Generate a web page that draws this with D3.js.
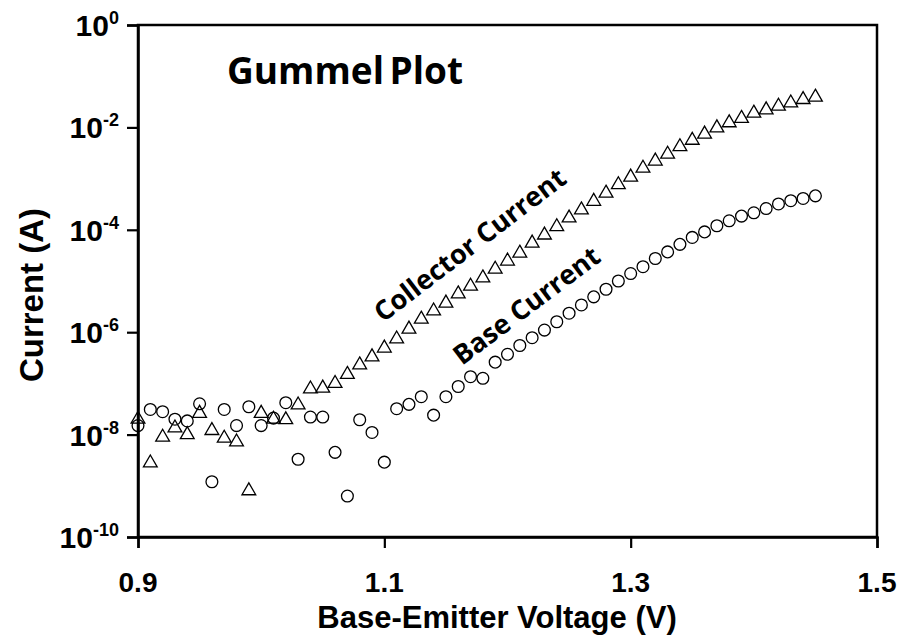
<!DOCTYPE html>
<html>
<head>
<meta charset="utf-8">
<script src="https://cdn.jsdelivr.net/npm/d3@7"></script>
<style>
  body { margin: 0; background: #fff; }
  svg { display: block; }
</style>
</head>
<body>
<svg id="chart" width="906" height="636"></svg>
<script>
// ---- data ----
const voltage = [0.90,0.91,0.92,0.93,0.94,0.95,0.96,0.97,0.98,0.99,
  1.00,1.01,1.02,1.03,1.04,1.05,1.06,1.07,1.08,1.09,
  1.10,1.11,1.12,1.13,1.14,1.15,1.16,1.17,1.18,1.19,
  1.20,1.21,1.22,1.23,1.24,1.25,1.26,1.27,1.28,1.29,
  1.30,1.31,1.32,1.33,1.34,1.35,1.36,1.37,1.38,1.39,
  1.40,1.41,1.42,1.43,1.44,1.45];
const collectorCurrent = [2.0e-8,2.8e-9,8.9e-9,1.35e-8,1.0e-8,2.6e-8,1.2e-8,8.5e-9,7.2e-9,8.0e-10,
  2.6e-8,2.0e-8,1.95e-8,3.8e-8,7.8e-8,8.1e-8,1.0e-7,1.5e-7,2.3e-7,3.3e-7,
  4.9e-7,7.4e-7,1.15e-6,1.8e-6,2.6e-6,3.7e-6,5.6e-6,7.9e-6,1.15e-5,1.7e-5,
  2.45e-5,3.5e-5,5.5e-5,7.9e-5,1.15e-4,1.7e-4,2.45e-4,3.6e-4,5.2e-4,7.6e-4,
  1.07e-3,1.6e-3,2.2e-3,3.0e-3,4.2e-3,5.6e-3,7.4e-3,9.8e-3,1.23e-2,1.5e-2,
  1.9e-2,2.2e-2,2.6e-2,3.0e-2,3.5e-2,3.9e-2];
const baseCurrent = [1.5e-8,3.1e-8,2.8e-8,2.0e-8,1.85e-8,4.0e-8,1.2e-9,3.1e-8,1.5e-8,3.5e-8,
  1.5e-8,2.1e-8,4.2e-8,3.3e-9,2.2e-8,2.2e-8,4.5e-9,6.3e-10,1.95e-8,1.1e-8,
  2.9e-9,3.2e-8,3.9e-8,5.5e-8,2.4e-8,5.5e-8,8.7e-8,1.35e-7,1.26e-7,2.6e-7,
  3.7e-7,5.5e-7,7.8e-7,1.1e-6,1.6e-6,2.35e-6,3.4e-6,4.9e-6,6.9e-6,1.0e-5,
  1.4e-5,1.9e-5,2.75e-5,3.7e-5,5.2e-5,7.1e-5,9.1e-5,1.2e-4,1.5e-4,1.85e-4,
  2.15e-4,2.6e-4,3.2e-4,3.7e-4,4.1e-4,4.6e-4];
const xTicks = [0.9, 1.1, 1.3, 1.5];
const yTickExponents = [0, -2, -4, -6, -8, -10];
const chartTitle = "Gummel Plot";
const xTitle = "Base-Emitter Voltage (V)";
const yTitle = "Current (A)";
const seriesLabels = ["Collector Current", "Base Current"];

// ---- layout ----
const svg = d3.select("#chart");
const pL = 138, pR = 877, pT = 25, pB = 537;
const x = d3.scaleLinear().domain([0.9, 1.5]).range([pL, pR]);
const y = d3.scaleLog().domain([1e-10, 1]).range([pB, pT]);
const axisFont = "'Liberation Sans', Arial, sans-serif";
const labelFont = "'Open Sans', 'Noto Sans', sans-serif";

// frame
svg.append("rect").attr("x", pL).attr("y", pT)
  .attr("width", pR - pL).attr("height", pB - pT)
  .attr("fill", "none").attr("stroke", "#000").attr("stroke-width", 2.5);

// y axis
const yAxis = d3.axisLeft(y).tickValues(yTickExponents.map(e => Math.pow(10, e)))
  .tickSize(11).tickFormat("");
const gy = svg.append("g").attr("transform", `translate(${pL},0)`).call(yAxis);
gy.select(".domain").attr("stroke-width", 2.5);
gy.selectAll(".tick line").attr("stroke-width", 2.2);

// y tick labels with superscripts
const yl = svg.append("g");
yTickExponents.forEach(e => {
  const t = yl.append("text")
    .attr("x", 119).attr("y", y(Math.pow(10, e)) + 11)
    .attr("text-anchor", "end")
    .attr("font-family", axisFont).attr("font-weight", "bold")
    .attr("font-size", 30).attr("fill", "#000");
  t.append("tspan").text("10");
  t.append("tspan").attr("dy", -12).attr("font-size", 18).text(String(e));
});

// x axis
const xAxis = d3.axisBottom(x).tickValues(xTicks).tickSize(11).tickFormat("");
const gx = svg.append("g").attr("transform", `translate(0,${pB})`).call(xAxis);
gx.select(".domain").attr("stroke-width", 2.5);
gx.selectAll(".tick line").attr("stroke-width", 2.2);

svg.append("g").selectAll("text").data(xTicks).join("text")
  .attr("x", d => x(d)).attr("y", 592)
  .attr("text-anchor", "middle")
  .attr("font-family", axisFont).attr("font-weight", "bold")
  .attr("font-size", 28).attr("fill", "#000")
  .text(d => d3.format(".1f")(d));

// axis titles
svg.append("text").attr("x", 497).attr("y", 628)
  .attr("text-anchor", "middle")
  .attr("font-family", axisFont).attr("font-weight", "bold")
  .attr("font-size", 31).attr("fill", "#000").text(xTitle);

svg.append("text").attr("transform", "translate(43,295) rotate(-90)")
  .attr("text-anchor", "middle")
  .attr("font-family", axisFont).attr("font-weight", "bold")
  .attr("font-size", 33).attr("fill", "#000").text(yTitle);

// chart title
svg.append("text").attr("x", 227).attr("y", 84)
  .attr("font-family", labelFont).attr("font-weight", "bold")
  .attr("font-size", 37).attr("word-spacing", -4).attr("fill", "#000").text(chartTitle);

// series
const collector = voltage.map((v, i) => ({ v, c: collectorCurrent[i] }));
const base = voltage.map((v, i) => ({ v, c: baseCurrent[i] }));

svg.append("g").selectAll("circle").data(base).join("circle")
  .attr("cx", d => x(d.v)).attr("cy", d => y(d.c)).attr("r", 5.9)
  .attr("fill", "none").attr("stroke", "#000").attr("stroke-width", 1.3);

const tri = d3.symbol().type(d3.symbolTriangle).size(82);
svg.append("g").selectAll("path").data(collector).join("path")
  .attr("d", tri)
  .attr("transform", d => `translate(${x(d.v)},${y(d.c)})`)
  .attr("fill", "none").attr("stroke", "#000").attr("stroke-width", 1.3);

// series labels (rotated)
svg.append("text").attr("transform", "translate(383,323) rotate(-37.3)")
  .attr("font-family", labelFont).attr("font-weight", "bold")
  .attr("font-size", 27).attr("fill", "#000").text(seriesLabels[0]);
svg.append("text").attr("transform", "translate(462,366) rotate(-37)")
  .attr("font-family", labelFont).attr("font-weight", "bold")
  .attr("font-size", 27).attr("fill", "#000").text(seriesLabels[1]);
</script>
</body>
</html>
